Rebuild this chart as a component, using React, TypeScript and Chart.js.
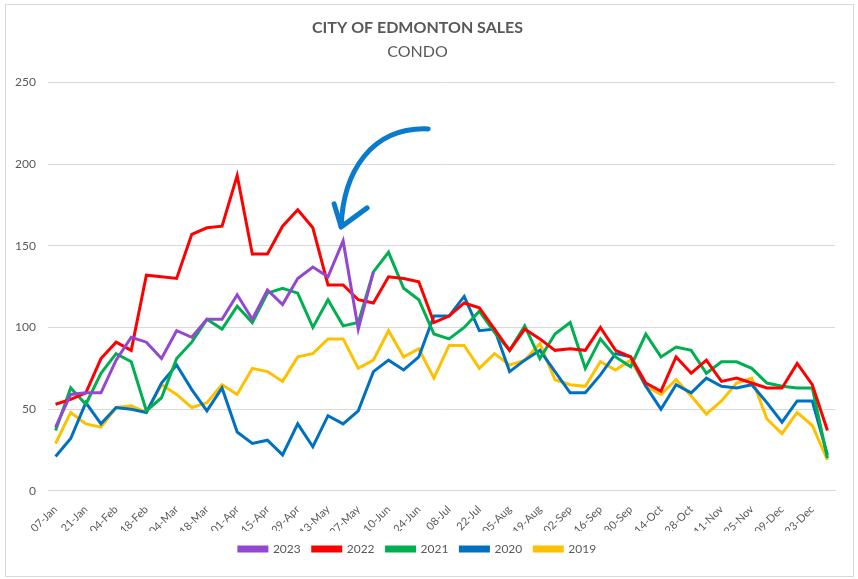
import React, { useEffect, useRef } from "react";
import { Chart, registerables } from "chart.js";

Chart.register(...registerables);

const weeks = [
  "07-Jan", "14-Jan", "21-Jan", "28-Jan", "04-Feb", "11-Feb", "18-Feb", "25-Feb",
  "04-Mar", "11-Mar", "18-Mar", "25-Mar", "01-Apr", "08-Apr", "15-Apr", "22-Apr",
  "29-Apr", "06-May", "13-May", "20-May", "27-May", "03-Jun", "10-Jun", "17-Jun",
  "24-Jun", "01-Jul", "08-Jul", "15-Jul", "22-Jul", "29-Jul", "05-Aug", "12-Aug",
  "19-Aug", "26-Aug", "02-Sep", "09-Sep", "16-Sep", "23-Sep", "30-Sep", "07-Oct",
  "14-Oct", "21-Oct", "28-Oct", "04-Nov", "11-Nov", "18-Nov", "25-Nov", "02-Dec",
  "09-Dec", "16-Dec", "23-Dec", "30-Dec",
];

const sales2023 = [39, 59, 60, 60, 80, 94, 91, 81, 98, 94, 105, 105, 120, 105, 123, 114, 130, 137, 131, 153, 99, 134];
const sales2022 = [53, 56, 60, 81, 91, 86, 132, 131, 130, 157, 161, 162, 193, 145, 145, 162, 172, 161, 126, 126, 117, 115, 131, 130, 128, 103, 107, 115, 112, 99, 86, 99, 93, 86, 87, 86, 100, 86, 82, 66, 61, 82, 72, 80, 67, 69, 66, 63, 63, 78, 65, 37];
const sales2021 = [37, 63, 53, 72, 84, 79, 49, 57, 81, 91, 105, 99, 113, 103, 121, 124, 121, 100, 117, 101, 103, 134, 146, 124, 117, 96, 93, 100, 110, 97, 86, 101, 81, 96, 103, 75, 93, 82, 76, 96, 82, 88, 86, 72, 79, 79, 75, 66, 64, 63, 63, 20];
const sales2020 = [21, 32, 54, 41, 51, 50, 48, 66, 77, 62, 49, 63, 36, 29, 31, 22, 41, 27, 46, 41, 49, 73, 80, 74, 82, 107, 107, 119, 98, 99, 73, 80, 86, 73, 60, 60, 71, 84, 82, 64, 50, 65, 60, 69, 64, 63, 65, 54, 42, 55, 55, 22];
const sales2019 = [29, 48, 41, 39, 51, 52, 48, 65, 59, 51, 54, 65, 59, 75, 73, 67, 82, 84, 93, 93, 75, 80, 98, 82, 87, 69, 89, 89, 75, 84, 77, 80, 90, 68, 65, 64, 79, 74, 80, 64, 59, 68, 58, 47, 55, 66, 69, 44, 35, 48, 40, 19];

const seriesNames = ["2023", "2022", "2021", "2020", "2019"];
const seriesColors = ["#9448D2", "#FF0000", "#00B050", "#0070C0", "#FFC000"];
const seriesData = [sales2023, sales2022, sales2021, sales2020, sales2019];

const yTicks = [0, 50, 100, 150, 200, 250];
const peakIndex2023 = 19;

const FONT = "Lato, 'Open Sans', sans-serif";
const GREY = "#595959";

const arrowPlugin = {
  id: "arrowNote",
  afterDatasetsDraw(chart: any) {
    const meta = chart.getDatasetMeta(0);
    const pt = meta && meta.data && meta.data[peakIndex2023];
    if (!pt) return;
    const ctx = chart.ctx;
    const tx = pt.x - 2;
    const ty = pt.y - 14;
    ctx.save();
    ctx.strokeStyle = "#0A7BCC";
    ctx.lineWidth = 5;
    ctx.lineCap = "round";
    ctx.lineJoin = "round";
    ctx.beginPath();
    ctx.moveTo(tx + 87, ty - 98);
    ctx.bezierCurveTo(tx + 30, ty - 100, tx + 2, ty - 55, tx, ty);
    ctx.stroke();
    ctx.beginPath();
    ctx.moveTo(tx - 7, ty - 23);
    ctx.lineTo(tx, ty);
    ctx.lineTo(tx + 26, ty - 19);
    ctx.stroke();
    ctx.restore();
  },
};

export default function App() {
  const ref = useRef<HTMLCanvasElement | null>(null);

  useEffect(() => {
    if (!ref.current) return;
    const chart = new Chart(ref.current, {
      type: "line",
      data: {
        labels: weeks,
        datasets: seriesNames.map((name, i) => ({
          label: name,
          data: seriesData[i],
          borderColor: seriesColors[i],
          backgroundColor: seriesColors[i],
          borderWidth: 3,
          pointRadius: 0,
          pointHoverRadius: 0,
          tension: 0,
          fill: false,
        })),
      },
      options: {
        animation: false,
        responsive: false,
        maintainAspectRatio: false,
        layout: { padding: { left: 0, right: 23, top: 0, bottom: 14 } },
        plugins: {
          title: {
            display: true,
            text: "CITY OF EDMONTON SALES",
            color: GREY,
            font: { family: FONT, size: 16, weight: "bold" },
            padding: { top: 18, bottom: 4 },
          },
          subtitle: {
            display: true,
            text: "CONDO",
            color: GREY,
            font: { family: FONT, size: 16, weight: "normal" },
            padding: { top: 1, bottom: 21 },
          },
          legend: {
            position: "bottom",
            labels: {
              color: GREY,
              font: { family: FONT, size: 12 },
              boxWidth: 28,
              boxHeight: 4,
              padding: 12,
            },
          },
          tooltip: { enabled: false },
        },
        scales: {
          x: {
            offset: true,
            grid: { display: false },
            border: { display: true, color: "#d9d9d9" },
            afterFit: (scale: any) => {
              scale.height = scale.height - 12;
            },
            ticks: {
              autoSkip: false,
              minRotation: 45,
              maxRotation: 45,
              padding: 4,
              color: GREY,
              font: { family: FONT, size: 11 },
              callback: (_v: any, idx: number) => (idx % 2 === 0 ? weeks[idx] : ""),
            },
          },
          y: {
            min: yTicks[0],
            max: yTicks[yTicks.length - 1],
            afterBuildTicks: (scale: any) => {
              scale.ticks = yTicks.map((v) => ({ value: v }));
            },
            afterFit: (scale: any) => {
              scale.width = 48;
            },
            grid: { color: "#d9d9d9", lineWidth: 1, drawTicks: false },
            border: { display: false },
            ticks: {
              padding: 12,
              color: GREY,
              font: { family: FONT, size: 12 },
            },
          },
        },
      },
      plugins: [arrowPlugin],
    });
    return () => chart.destroy();
  }, []);

  return (
    <div style={{ position: "fixed", left: 0, top: 0, width: 858, height: 579, background: "#fff" }}>
      <canvas ref={ref} width={858} height={579} style={{ position: "absolute", left: 0, top: 0, width: 858, height: 579 }} />
      <div
        style={{
          position: "absolute",
          left: 5,
          top: 4,
          width: 847,
          height: 571,
          border: "1px solid #d9d9d9",
          pointerEvents: "none",
        }}
      />
    </div>
  );
}
